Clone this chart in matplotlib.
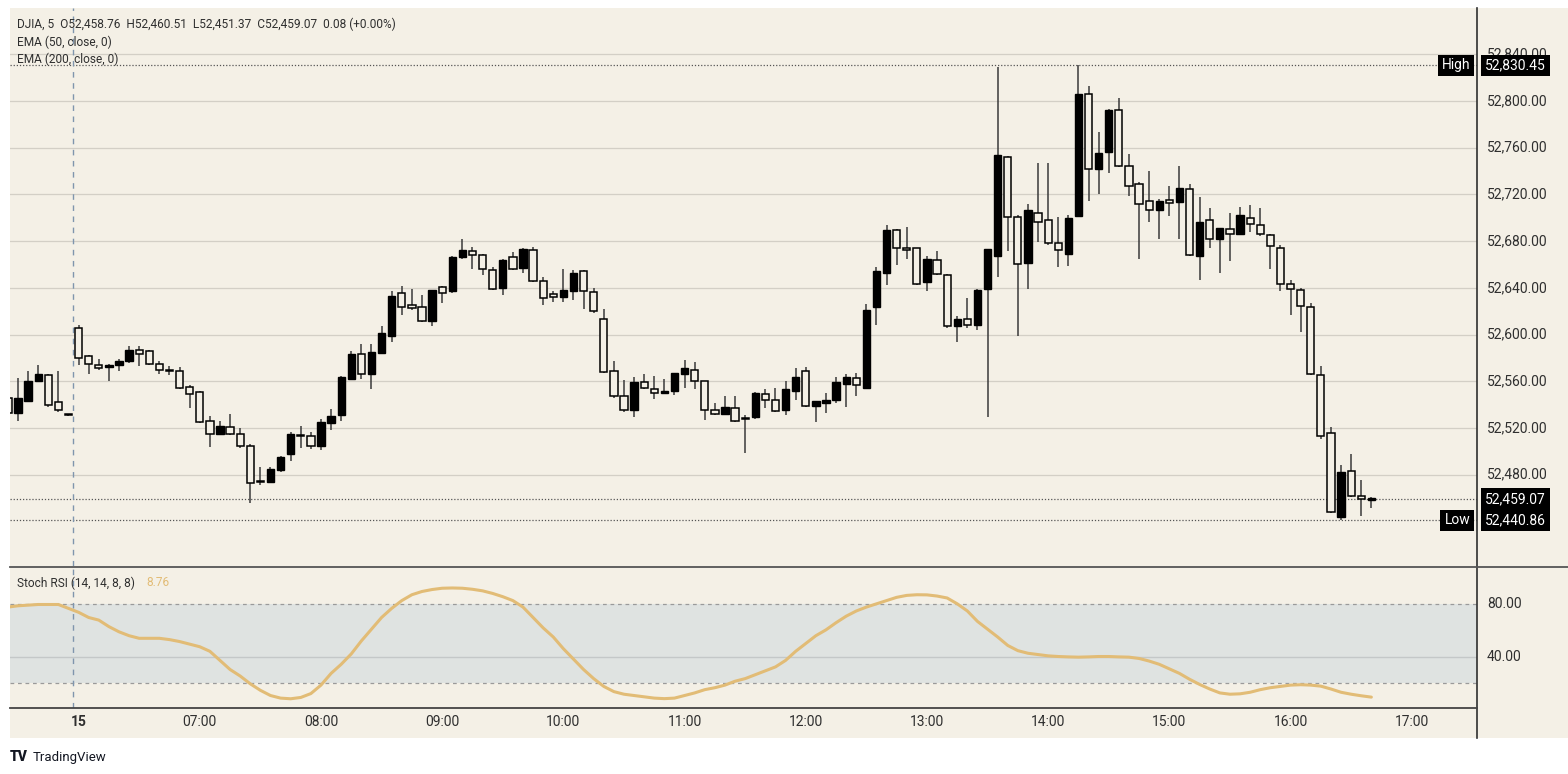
import numpy as np
import matplotlib
matplotlib.use("Agg")
import matplotlib.pyplot as plt
import matplotlib.transforms as mtransforms
from matplotlib.lines import Line2D
from matplotlib.patches import Rectangle

plt.rcParams['font.family'] = ['Roboto', 'DejaVu Sans']

# ---------------- data ----------------
opens = [52546, 52533, 52543, 52560, 52565, 52542, 52531.5, 52606, 52582, 52574,
         52572, 52574, 52577, 52587, 52586, 52575, 52569.5, 52569, 52555, 52551,
         52526, 52515, 52521, 52515, 52505, 52474.5, 52474, 52484, 52498, 52513.5,
         52513, 52505, 52524, 52531, 52562, 52583, 52566, 52584, 52599, 52636,
         52625, 52624, 52612, 52641, 52637, 52666, 52671.5, 52668, 52655, 52640,
         52666, 52657, 52672, 52646, 52635, 52632, 52637, 52654, 52636.5, 52613,
         52569, 52547, 52535, 52559, 52553, 52550, 52552, 52566, 52570, 52560,
         52535, 52532, 52537, 52528, 52529, 52549, 52544, 52535, 52552, 52569,
         52539, 52541, 52544, 52558, 52563, 52554, 52623.5, 52653, 52689.5, 52674.5,
         52674, 52645, 52663.5, 52651, 52607, 52613.5, 52608, 52639, 52667, 52752,
         52701, 52661.5, 52704, 52698, 52678, 52669, 52701.5, 52806, 52741.5, 52756.6,
         52792, 52744, 52728.5, 52714.5, 52707, 52715.5, 52713.5, 52724.5, 52667, 52698,
         52682, 52690.5, 52686.5, 52700, 52694, 52685, 52674.5, 52643, 52638.5, 52624,
         52565, 52515.5, 52443.5, 52483, 52461.5, 52458.76]
highs = [52548, 52563, 52569, 52574, 52566, 52569, 52532, 52608, 52582.5, 52579,
         52574.5, 52579, 52590, 52590, 52587, 52577, 52573, 52572, 52557, 52552,
         52530, 52526, 52532, 52520, 52506, 52487, 52487, 52496, 52517, 52522,
         52517, 52528, 52536, 52564.5, 52586, 52592, 52592, 52607, 52637, 52642,
         52639, 52634, 52638.5, 52641.5, 52667, 52682, 52675, 52669, 52658, 52665,
         52671, 52674, 52675, 52649, 52637, 52656, 52655.5, 52655, 52640, 52622,
         52577, 52561, 52564, 52566, 52564.5, 52562, 52567.5, 52578, 52576.5, 52560.5,
         52541, 52547, 52547, 52531, 52551, 52553, 52554, 52560, 52571, 52572,
         52543.5, 52550, 52564, 52566, 52567, 52626, 52658, 52693.5, 52690, 52692.5,
         52674.5, 52667, 52671.5, 52651.5, 52616, 52631, 52639, 52673.5, 52829.5, 52752.5,
         52702, 52711.5, 52746.5, 52746.5, 52700.5, 52702, 52830.45, 52813, 52773.5, 52793,
         52802.5, 52755, 52730.5, 52740, 52716, 52727, 52744, 52729, 52718, 52708,
         52691.5, 52704, 52709.5, 52711, 52708.5, 52686, 52676.5, 52646.5, 52640, 52627,
         52573, 52521, 52488, 52497.5, 52475.5, 52460.51]
lows = [52530, 52526, 52542, 52559, 52538, 52534, 52530.5, 52574, 52566, 52570,
        52560, 52569, 52576, 52573, 52574, 52566, 52565, 52553, 52537, 52524,
        52504, 52514, 52514, 52503, 52456, 52471, 52473, 52482, 52492, 52503,
        52502, 52501, 52518, 52526, 52561, 52562, 52553, 52583.5, 52594, 52617,
        52621, 52611, 52607, 52627, 52636, 52665, 52656, 52651, 52638, 52634,
        52655, 52653, 52645, 52625, 52628, 52628, 52630, 52622, 52618.5, 52567,
        52546, 52534, 52529, 52553, 52545, 52549, 52548, 52554, 52553, 52527,
        52531, 52531.5, 52525.5, 52499, 52527.5, 52537, 52534, 52531, 52544, 52538,
        52525, 52533, 52541, 52538, 52547, 52553.5, 52608.5, 52642.5, 52659.5, 52665,
        52642.5, 52637, 52651, 52606, 52594, 52605.5, 52604, 52529, 52649, 52671.5,
        52599, 52639, 52679, 52677, 52658, 52659, 52700.5, 52714, 52720, 52738,
        52743.5, 52719, 52665, 52696, 52682, 52701.5, 52682, 52667, 52646.5, 52674,
        52652.5, 52663, 52686, 52688, 52684.5, 52656.5, 52637, 52616.5, 52602, 52565,
        52510.5, 52447, 52440.86, 52461, 52445, 52451.37]
closes = [52533, 52546, 52560, 52566, 52540, 52535, 52531, 52580, 52575, 52571,
          52574, 52577, 52587, 52583, 52574.5, 52570, 52569, 52554, 52549, 52525,
          52515, 52522, 52515, 52505, 52473, 52474, 52485, 52495, 52515, 52513,
          52505, 52525, 52530, 52564, 52583, 52566, 52585, 52601, 52633, 52624,
          52622.5, 52612, 52638, 52636, 52666, 52672, 52668, 52656, 52639, 52664,
          52656, 52673, 52646, 52631, 52632, 52638.5, 52653, 52637, 52620, 52568,
          52547, 52535, 52559, 52554.5, 52550, 52552, 52567, 52571, 52560, 52535,
          52532, 52538, 52526, 52527.5, 52550, 52544, 52534.5, 52553, 52564, 52539,
          52543, 52544, 52559, 52564, 52557, 52621, 52654.5, 52689.5, 52674.3, 52672,
          52643, 52665, 52651.5, 52607, 52613, 52608.5, 52638, 52673, 52753.5, 52701,
          52660, 52706.5, 52696, 52678, 52672, 52700, 52805.7, 52742, 52755.5, 52792.6,
          52744, 52727, 52711.5, 52707, 52714, 52713, 52725.5, 52668, 52696, 52681.5,
          52691, 52686.5, 52702, 52695, 52686.5, 52676, 52643.5, 52639, 52624.5, 52566,
          52513, 52448, 52482.5, 52461.5, 52459, 52459.07]
stoch = [78, 79, 79.5, 80, 80, 80, 77, 74, 70, 68,
         63, 59, 56, 54, 54, 54, 53, 51.5, 49.5, 47.5,
         44, 37, 30, 25, 19, 14, 10, 8, 7.5, 8.5,
         11.5, 18, 27, 34, 42, 52, 61, 70, 77, 83,
         87.5, 90, 91.5, 92.5, 92.7, 92.5, 91.7, 90.5, 88.5, 86,
         83, 78, 70, 62, 55, 46, 38, 30, 23, 17,
         13, 11, 10, 9, 8, 7.6, 8, 10, 12, 14.5,
         16, 18, 21, 23, 26, 29, 32, 37, 44, 50,
         56, 60.5, 66, 71, 75, 78, 80.5, 83, 85.5, 87,
         87.5, 87.4, 86.5, 85, 80.5, 75, 67, 61, 55, 48.5,
         44.5, 42.5, 41.5, 40.5, 40, 39.7, 39.5, 39.7, 40, 40,
         39.7, 39.5, 38.5, 36.5, 34, 30.5, 27, 22.5, 18.5, 15,
         12, 11, 11.3, 12.5, 14.5, 16, 17, 18, 18.3, 18,
         17.2, 15, 12.5, 11, 9.8, 8.76]
day_label = "15"
first_bar_of_day = 7
hour_labels = ["07:00", "08:00", "09:00", "10:00", "11:00", "12:00",
               "13:00", "14:00", "15:00", "16:00", "17:00"]
price_ticks = [52480, 52520, 52560, 52600, 52640, 52680, 52720, 52760, 52800, 52840]
stoch_ticks = [80, 40]
high_val = 52830.45
low_val = 52440.86
last_close = 52459.07

# ---------------- layout ----------------
W, H = 1568, 774
BG = '#f4f0e6'
DARK = '#2f2f2f'
GRID = '#d3cfc6'

def fx(x):
    return x / W

def fy(y):
    return 1 - y / H

fig = plt.figure(figsize=(W / 100, H / 100), dpi=100)
fig.patch.set_facecolor('white')
fig.patches.append(Rectangle((fx(10), fy(738)), 1 - fx(10), (738 - 8) / H,
                             transform=fig.transFigure, facecolor=BG,
                             edgecolor='none', zorder=-10))

ax = fig.add_axes([fx(10), fy(566), (1477 - 10) / W, (566 - 8) / H])
axs = fig.add_axes([fx(10), fy(708), (1477 - 10) / W, (708 - 566) / H])
for a in (ax, axs):
    a.set_facecolor('none')
    a.set_axis_off()

n = len(opens)
x = np.arange(n)
xlim = (0.21, 145.46)
ax.set_xlim(*xlim)
axs.set_xlim(*xlim)
ax.set_ylim(52401.85, 52879.6)
axs.set_ylim(0.4, 109.6)

# grid lines
for p in price_ticks:
    ax.axhline(p, color=GRID, lw=0.9, zorder=0)
axs.axhspan(20, 80, color='#dfe3e1', zorder=0, lw=0)
axs.axhline(40, color='#c4c8c8', lw=1.0, zorder=1)
axs.axhline(80, color='#9a9a9a', lw=0.9, ls=(0, (3, 3)), zorder=1)
axs.axhline(20, color='#9a9a9a', lw=0.9, ls=(0, (3, 3)), zorder=1)

# high / low / close dotted lines
for v in (high_val, low_val, last_close):
    ax.axhline(v, color='#555555', lw=0.9, ls=(0, (1, 1.5)), zorder=1)

# candles
o = np.array(opens); c = np.array(closes); h = np.array(highs); l = np.array(lows)
up = c > o
ax.vlines(x, l, h, color='#3a3a3a', lw=1.1, zorder=2)
bottoms = np.minimum(o, c)
heights = np.maximum(np.abs(c - o), 0.9)
ax.bar(x[up], heights[up], bottom=bottoms[up], width=0.72, color='black',
       edgecolor='black', lw=1.0, zorder=3)
ax.bar(x[~up], heights[~up], bottom=bottoms[~up], width=0.72, color=BG,
       edgecolor='black', lw=1.1, zorder=3)

# stoch rsi line
axs.plot(x, stoch, color='#e2bc76', lw=2.2, zorder=4, solid_capstyle='round')

# session break dashed line
for a in (ax, axs):
    a.axvline(first_bar_of_day - 0.55, color='#7f95ad', lw=1.0, ls=(0, (4, 4)), zorder=1)

# frame lines
fig.add_artist(Line2D([fx(1477), fx(1477)], [fy(8), fy(738)], color=DARK, lw=1.2,
                      transform=fig.transFigure))
fig.add_artist(Line2D([fx(10), fx(1568)], [fy(566.5), fy(566.5)], color='#555555', lw=1.3,
                      transform=fig.transFigure))
fig.add_artist(Line2D([fx(10), fx(1477)], [fy(708), fy(708)], color='#444444', lw=1.3,
                      transform=fig.transFigure))

# price axis labels
tr_main = mtransforms.blended_transform_factory(fig.transFigure, ax.transData)
tr_st = mtransforms.blended_transform_factory(fig.transFigure, axs.transData)
for p in price_ticks:
    ax.text(fx(1487), p, f"{p:,.2f}", transform=tr_main, va='center', ha='left',
            fontsize=10, color=DARK, clip_on=False)
for s in stoch_ticks:
    axs.text(fx(1487), s, f"{s:.2f}", transform=tr_st, va='center', ha='left',
             fontsize=10, color=DARK, clip_on=False)

box = dict(boxstyle='square,pad=0.28', fc='black', ec='none')
ax.text(fx(1485), high_val, f"{high_val:,.2f}", transform=tr_main, va='center', ha='left',
        fontsize=10, color='white', bbox=box, clip_on=False, zorder=10)
ax.text(fx(1470), high_val, "High", transform=tr_main, va='center', ha='right',
        fontsize=10, color='white', bbox=box, clip_on=False, zorder=10)
ax.text(fx(1485), last_close, f"{last_close:,.2f}", transform=tr_main, va='center', ha='left',
        fontsize=10, color='white', bbox=box, clip_on=False, zorder=10)
ax.text(fx(1485), low_val, f"{low_val:,.2f}", transform=tr_main, va='center', ha='left',
        fontsize=10, color='white', bbox=box, clip_on=False, zorder=10)
ax.text(fx(1470), low_val, "Low", transform=tr_main, va='center', ha='right',
        fontsize=10, color='white', bbox=box, clip_on=False, zorder=10)

# time axis labels
tr_time = mtransforms.blended_transform_factory(axs.transData, fig.transFigure)
axs.text(first_bar_of_day, fy(722), day_label, transform=tr_time, ha='center', va='center',
         fontsize=10, fontweight='bold', color=DARK, clip_on=False)
for j, lab in enumerate(hour_labels):
    axs.text(first_bar_of_day + 12 * (j + 1), fy(722), lab, transform=tr_time,
             ha='center', va='center', fontsize=10, color=DARK, clip_on=False)

# header texts
fig.text(fx(17), fy(24), "DJIA, 5  O52,458.76  H52,460.51  L52,451.37  C52,459.07  0.08 (+0.00%)",
         fontsize=8.6, color=DARK, va='center', ha='left')
fig.text(fx(17), fy(42), "EMA (50, close, 0)", fontsize=8.6, color=DARK, va='center', ha='left')
fig.text(fx(17), fy(59), "EMA (200, close, 0)", fontsize=8.6, color=DARK, va='center', ha='left')
t1 = fig.text(fx(17), fy(583), "Stoch RSI (14, 14, 8, 8)", fontsize=8.6, color=DARK,
              va='center', ha='left')
fig.text(fx(146), fy(583), f"{stoch[-1]:.2f}", fontsize=8.6, color='#e2bc76',
         va='center', ha='left')

# TradingView logo
fig.text(fx(10), fy(757), "TV", fontsize=10, fontweight='heavy', color='#131722',
         va='center', ha='left')
fig.text(fx(33), fy(757), "TradingView", fontsize=9.5, color='#131722', va='center', ha='left')

fig.savefig("out.png", dpi=100, facecolor=fig.get_facecolor())
